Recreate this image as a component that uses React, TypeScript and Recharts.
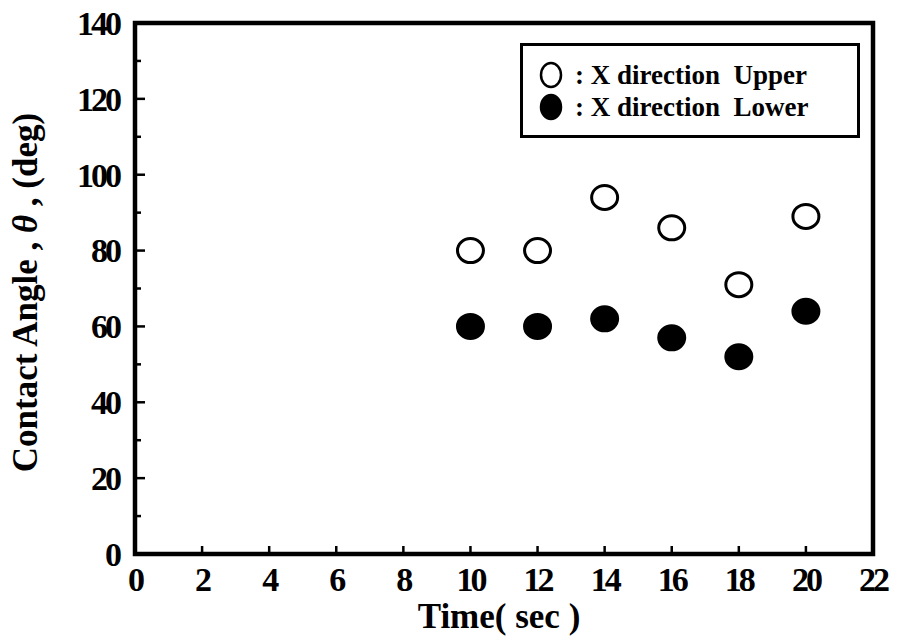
import React from 'react';
import { ScatterChart, Scatter, XAxis, YAxis, ReferenceArea, Legend } from 'recharts';

const times = [10, 12, 14, 16, 18, 20];
const upperAngles = [80, 80, 94, 86, 71, 89];
const lowerAngles = [60, 60, 62, 57, 52, 64];
const xTicks = [0, 2, 4, 6, 8, 10, 12, 14, 16, 18, 20, 22];
const yTicks = [0, 10, 20, 30, 40, 50, 60, 70, 80, 90, 100, 110, 120, 130, 140];
const upperName = ': X direction  Upper';
const lowerName = ': X direction  Lower';

const upperData = times.map((t, i) => ({ time: t, angle: upperAngles[i] }));
const lowerData = times.map((t, i) => ({ time: t, angle: lowerAngles[i] }));

const FONT = '"Liberation Serif", "Times New Roman", serif';

const XTick = (props: any) => {
  const { x, y, payload } = props;
  return (
    <g>
      <line x1={x} x2={x} y1={y - 14} y2={y - 21} stroke="#000" strokeWidth={2.5} />
      <text x={x} y={y} dy="0.7em" textAnchor="middle" fontFamily={FONT} fontWeight="bold" fontSize={34} letterSpacing={-3} fill="#000">
        {payload.value}
      </text>
    </g>
  );
};

const YTick = (props: any) => {
  const { x, y, payload } = props;
  const major = payload.value % 20 === 0;
  return (
    <g>
      <line x1={x + 16} x2={x + 16 + (major ? 10 : 6)} y1={y} y2={y} stroke="#000" strokeWidth={2.5} />
      {major && (
        <text x={x} y={y} dy="0.35em" textAnchor="end" fontFamily={FONT} fontWeight="bold" fontSize={34} letterSpacing={-3} fill="#000">
          {payload.value}
        </text>
      )}
    </g>
  );
};

const Marker = (filled: boolean) => (p: any) => (
  <ellipse cx={p.cx} cy={p.cy} rx={13} ry={12} fill={filled ? '#000' : '#fff'} stroke="#000" strokeWidth={3} />
);

const LegendBox = () => (
  <div
    style={{
      border: '3px solid #000',
      background: '#fff',
      boxSizing: 'border-box',
      width: 340,
      height: 95,
      padding: '13px 0 0 16px',
      fontFamily: FONT,
      fontWeight: 'bold',
      fontSize: 27,
      lineHeight: '32px',
      whiteSpace: 'pre',
    }}
  >
    {[
      { name: upperName, filled: false },
      { name: lowerName, filled: true },
    ].map((e) => (
      <div key={e.name} style={{ display: 'flex', alignItems: 'center' }}>
        <svg width={36} height={30}>
          <ellipse cx={12} cy={15} rx={10} ry={12} fill={e.filled ? '#000' : '#fff'} stroke="#000" strokeWidth={2.5} />
        </svg>
        <span>{e.name}</span>
      </div>
    ))}
  </div>
);

const YLabel = (props: any) => {
  const vb = props.viewBox;
  const cx = vb.x + 25;
  const cy = vb.y + vb.height / 2 + 4;
  return (
    <text
      x={cx}
      y={cy}
      transform={`rotate(-90, ${cx}, ${cy})`}
      textAnchor="middle"
      dominantBaseline="central"
      fontFamily={FONT}
      fontWeight="bold"
      fontSize={35}
      fill="#000"
    >
      Contact Angle , <tspan fontStyle="italic">θ</tspan> , (deg)
    </text>
  );
};

const XLabel = (props: any) => {
  const vb = props.viewBox;
  return (
    <text x={vb.x + vb.width / 2 - 5} y={vb.y + 74} textAnchor="middle" fontFamily={FONT} fontWeight="bold" fontSize={35} fill="#000">
      Time( sec )
    </text>
  );
};

export default function App() {
  return (
    <div style={{ position: 'absolute', left: 0, top: 0, width: 897, height: 639, background: '#fff' }}>
      <ScatterChart width={897} height={639} margin={{ top: 23, right: 24, bottom: 0, left: 0 }}>
        <XAxis
          type="number"
          dataKey="time"
          domain={[0, 22]}
          ticks={xTicks}
          interval={0}
          height={85}
          tickSize={0}
          tickMargin={13}
          axisLine={false}
          tickLine={false}
          tick={<XTick />}
          label={<XLabel />}
        />
        <YAxis
          type="number"
          dataKey="angle"
          domain={[0, 140]}
          ticks={yTicks}
          interval={0}
          width={135}
          tickSize={0}
          tickMargin={16}
          axisLine={false}
          tickLine={false}
          tick={<YTick />}
          label={<YLabel />}
        />
        <ReferenceArea x1={0} x2={22} y1={0} y2={140} fill="none" stroke="#000" strokeWidth={4.5} />
        <Legend
          content={<LegendBox />}
          wrapperStyle={{ position: 'absolute', left: 520, top: 43, width: 0, height: 0, overflow: 'visible' }}
        />
        <Scatter name={upperName} data={upperData} shape={Marker(false)} isAnimationActive={false} />
        <Scatter name={lowerName} data={lowerData} shape={Marker(true)} isAnimationActive={false} />
      </ScatterChart>
    </div>
  );
}
